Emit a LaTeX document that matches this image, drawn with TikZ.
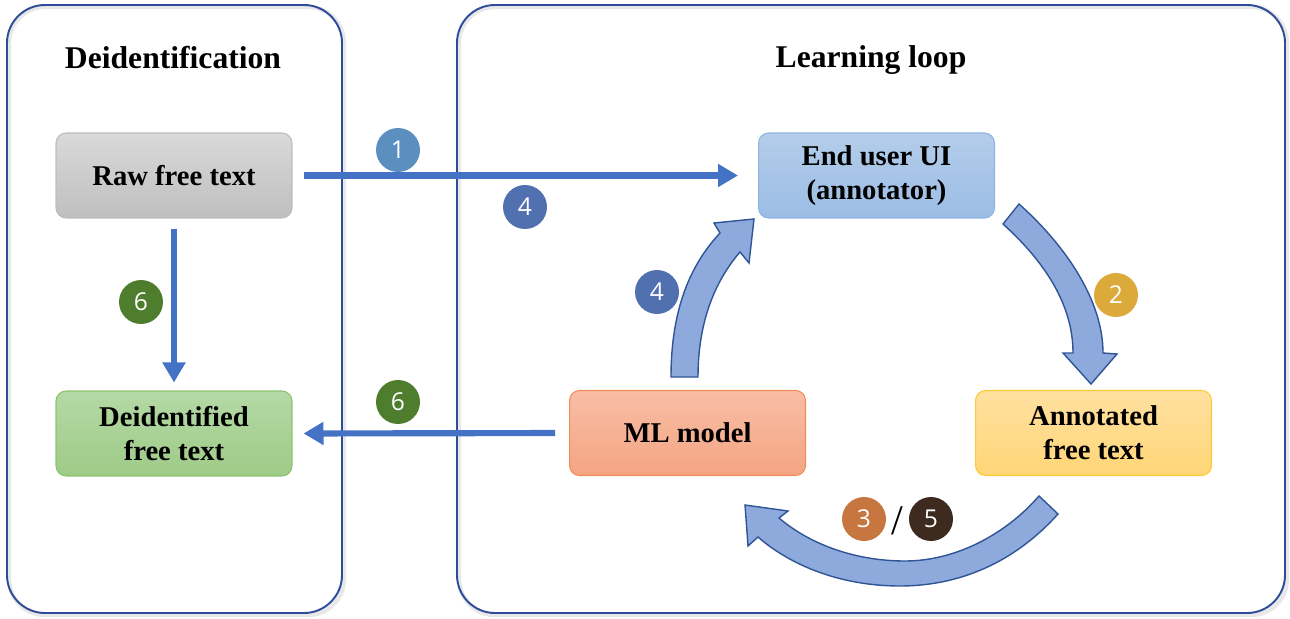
\documentclass[tikz,border=0pt]{standalone}
\usepackage{fontspec}
\setmainfont{Liberation Serif}
\newfontfamily\numfont{Open Sans}
\usetikzlibrary{arrows.meta}
\usetikzlibrary{positioning}

\definecolor{panelblue}{HTML}{2F4C9A}
\definecolor{linkblue}{HTML}{4472C4}
\definecolor{loopfill}{HTML}{8EA9DB}
\definecolor{loopedge}{HTML}{2F5597}
\definecolor{numA}{HTML}{5B8FBF}
\definecolor{numB}{HTML}{5070B0}
\definecolor{numC}{HTML}{4E7D2E}
\definecolor{numD}{HTML}{DCAA3A}
\definecolor{numE}{HTML}{C8763F}
\definecolor{numF}{HTML}{3D2B1F}
\definecolor{rawtop}{HTML}{D9D9D9}
\definecolor{rawbot}{HTML}{BFBFBF}
\definecolor{rawedge}{HTML}{BDBDBD}
\definecolor{deidtop}{HTML}{B5D9A6}
\definecolor{deidbot}{HTML}{9ECB87}
\definecolor{deidedge}{HTML}{8DC26F}
\definecolor{uitop}{HTML}{B4CDEA}
\definecolor{uibot}{HTML}{9BBDE5}
\definecolor{uiedge}{HTML}{8FB4E3}
\definecolor{mltop}{HTML}{F8BEA6}
\definecolor{mlbot}{HTML}{F4A482}
\definecolor{mledge}{HTML}{F08C5A}
\definecolor{anntop}{HTML}{FFE0A0}
\definecolor{annbot}{HTML}{FFD677}
\definecolor{annedge}{HTML}{FFC933}

\newcommand{\boxfont}{\bfseries\fontsize{16.3}{19.5}\selectfont}
\newcommand{\titlefont}{\bfseries\fontsize{18}{22}\selectfont}

\begin{document}
\begin{tikzpicture}
        [x=0.02cm, y=-0.02cm,
         panel/.style={draw=panelblue, line width=1.1pt, rounded corners=0.76cm},
         glow/.style={draw=black!9, line width=2.5pt, rounded corners=0.72cm},
         box/.style={rounded corners=0.2cm, minimum width=4.72cm, minimum height=1.7cm,
                     align=center, font=\boxfont, line width=0.6pt},
         num/.style={circle, inner sep=0pt, minimum size=0.88cm, text=white,
                     font=\numfont\fontsize{14}{16}\selectfont},
         link/.style={draw=linkblue, line width=3.5pt, -{Triangle[length=0.4cm,width=0.44cm]}},
         bigarrow/.style={fill=loopfill, draw=loopedge, line width=0.8pt}]
        \useasboundingbox (0,0) rectangle (1290,618);

        % the two panels
        \draw [glow] (9,7) rectangle (344,615);
        \draw [glow] (459,7) rectangle (1287,615);
        \draw [panel] (7,5) rectangle (342,613);
        \draw [panel] (457,5) rectangle (1285,613);
        \node (tleft) at (173,58) {\titlefont Deidentification};
        \node (tright) at (871,60) {\titlefont Learning loop};

        % boxes
        \node [box, draw=rawedge, top color=rawtop, bottom color=rawbot] (raw) at (174,175.5) {Raw free text};
        \node [box, draw=deidedge, top color=deidtop, bottom color=deidbot,
               below=3.44cm of raw] (deid) {Deidentified\\free text};
        \node [box, draw=uiedge, top color=uitop, bottom color=uibot] (ui) at (876.5,175.5) {End user UI\\(annotator)};
        \node [box, draw=annedge, top color=anntop, bottom color=annbot] (ann) at (1093.5,433) {Annotated\\free text};
        \node [box, draw=mledge, top color=mltop, bottom color=mlbot,
               left=3.38cm of ann] (ml) {ML model};

        % straight links
        \draw [link, shorten <=0.22cm, shorten >=0.4cm] (raw.east) -- (ui.west);
        \draw [link, shorten <=0.2cm, shorten >=0.16cm] (raw.south) -- (deid.north);
        \draw [link, shorten <=0.28cm, shorten >=0.22cm] (ml.west) -- (deid.east);

        % curved block arrows of the loop
        \draw [bigarrow] (671,377) .. controls (671,310) and (690,265) .. (720,233)
              -- (714,223) -- (754,219) -- (749,263) -- (740,252)
              .. controls (716,280) and (698,320) .. (698,377) -- cycle;
        \draw [bigarrow] (1019,204) .. controls (1065,245) and (1103,300) .. (1103,353)
              -- (1117,354) -- (1091,384) -- (1063,353) -- (1073,353)
              .. controls (1073,305) and (1045,262) .. (1003,224) -- cycle;
        \draw [bigarrow] (1039,496) -- (1058,514)
              .. controls (1015,562) and (960,586) .. (900,586)
              .. controls (840,586) and (790,565) .. (758,537)
              -- (748,546) -- (745,505) -- (788,511) -- (779,518)
              .. controls (812,546) and (858,561) .. (905,561)
              .. controls (955,561) and (1005,535) .. (1039,496) -- cycle;

        % step numbers
        \node [num, fill=numA] (n1) at (398,150) {1};
        \node [num, fill=numB] (n4a) at (525,207) {4};
        \node [num, fill=numC] (n6a) at (141,302) {6};
        \node [num, fill=numC] (n6b) at (398,402) {6};
        \node [num, fill=numB] (n4b) at (657,292) {4};
        \node [num, fill=numD] (n2) at (1116,295) {2};
        \node [num, fill=numE] (n3) at (864,519) {3};
        \node [font=\fontsize{24}{24}\selectfont] (slash) at (897,521) {/};
        \node [num, fill=numF] (n5) at (931,519) {5};
\end{tikzpicture}
\end{document}
